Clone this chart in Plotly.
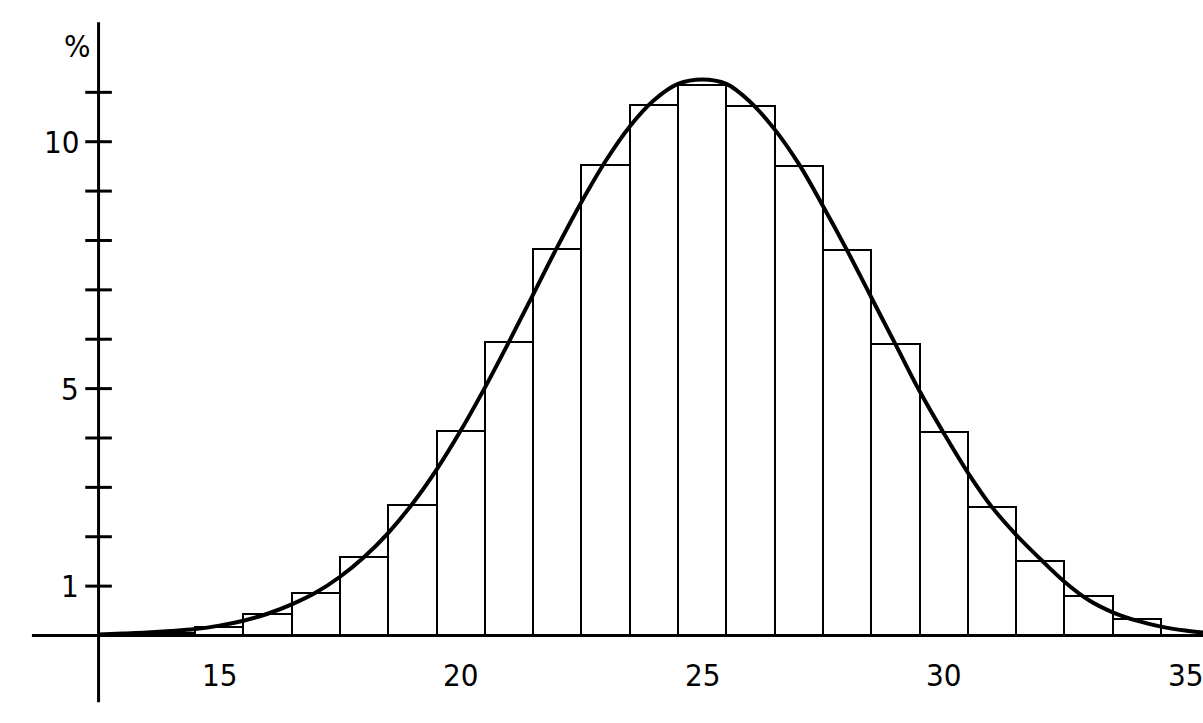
import plotly.graph_objects as go

# ---- data ----
bin_centers = [14, 15, 16, 17, 18, 19, 20, 21, 22, 23, 24, 25, 26, 27, 28, 29, 30, 31, 32, 33, 34]
bin_pct = [0.06, 0.18, 0.43, 0.87, 1.58, 2.65, 4.15, 5.95, 7.83, 9.53, 10.75, 11.15,
           10.73, 9.51, 7.81, 5.91, 4.12, 2.61, 1.51, 0.81, 0.34]

curve_x = [12.5, 13, 13.5, 14, 14.5, 15, 15.5, 16, 16.5, 17, 17.5, 18, 18.5, 19, 19.5,
           20, 20.5, 21, 21.5, 22, 22.5, 23, 23.5, 24, 24.5, 25, 25.5, 26, 26.5, 27,
           27.5, 28, 28.5, 29, 29.5, 30, 30.5, 31, 31.5, 32, 32.5, 33, 33.5, 34, 34.5,
           35, 35.37]
curve_y = [0.02, 0.04, 0.06, 0.09, 0.13, 0.2, 0.3, 0.44, 0.63, 0.87, 1.19, 1.59, 2.08,
           2.67, 3.36, 4.15, 5.02, 5.95, 6.91, 7.87, 8.78, 9.61, 10.31, 10.84, 11.17,
           11.26, 11.17, 10.8, 10.25, 9.55, 8.7, 7.8, 6.85, 5.9, 4.95, 4.1, 3.3, 2.6,
           2.04, 1.55, 1.09, 0.72, 0.47, 0.3, 0.18, 0.1, 0.06]

x_tick_vals = [15, 20, 25, 30, 35]
x_tick_text = ["15", "20", "25", "30", "35"]
y_minor_ticks = [1, 2, 3, 4, 5, 6, 7, 8, 9, 10, 11]
y_tick_vals = [1, 5, 10]
y_tick_text = ["1", "5", "10"]
y_unit_label = "%"

FONT = dict(family="DejaVu Sans Condensed", size=31, color="black")
AXIS_X = 12.5

fig = go.Figure()

fig.add_trace(go.Bar(
    x=bin_centers, y=bin_pct, width=1.0,
    marker=dict(color="white", line=dict(color="black", width=2)),
    showlegend=False, hoverinfo="skip",
))

fig.add_trace(go.Scatter(
    x=curve_x, y=curve_y, mode="lines", line=dict(color="black", width=4, shape="spline"),
    showlegend=False, hoverinfo="skip",
))

# y tick marks crossing the axis
fig.add_trace(go.Scatter(
    x=[AXIS_X] * len(y_minor_ticks), y=y_minor_ticks, mode="markers",
    marker=dict(symbol="line-ew", size=19, line=dict(color="black", width=3)),
    showlegend=False, hoverinfo="skip",
))

# axis lines
fig.add_shape(type="line", x0=11.12, x1=35.37, y0=0, y1=0,
              line=dict(color="black", width=3), layer="above")
fig.add_shape(type="line", x0=AXIS_X, x1=AXIS_X, y0=-1.35, y1=12.42,
              line=dict(color="black", width=3), layer="above")

# tick labels
for v, t in zip(x_tick_vals, x_tick_text):
    fig.add_annotation(x=v, y=0, text=t, showarrow=False, yanchor="middle",
                       xanchor="center", yshift=-39, font=FONT)
for v, t in zip(y_tick_vals, y_tick_text):
    fig.add_annotation(x=AXIS_X, y=v, text=t, showarrow=False, xanchor="right",
                       yanchor="middle", xshift=-18, font=FONT)
fig.add_annotation(x=AXIS_X, y=11.94, text=y_unit_label, showarrow=False, xanchor="right",
                   yanchor="middle", xshift=-6, font=FONT)

fig.update_layout(
    width=1203, height=723,
    margin=dict(l=0, r=0, t=0, b=0),
    paper_bgcolor="white", plot_bgcolor="white",
    bargap=0,
    xaxis=dict(range=[10.459, 35.37], visible=False),
    yaxis=dict(range=[-1.772, 12.87], visible=False),
)

fig.write_html(
    "out.html",
    config={"displayModeBar": False},
    post_script="document.body.style.margin='0';document.body.style.overflow='hidden';",
)
